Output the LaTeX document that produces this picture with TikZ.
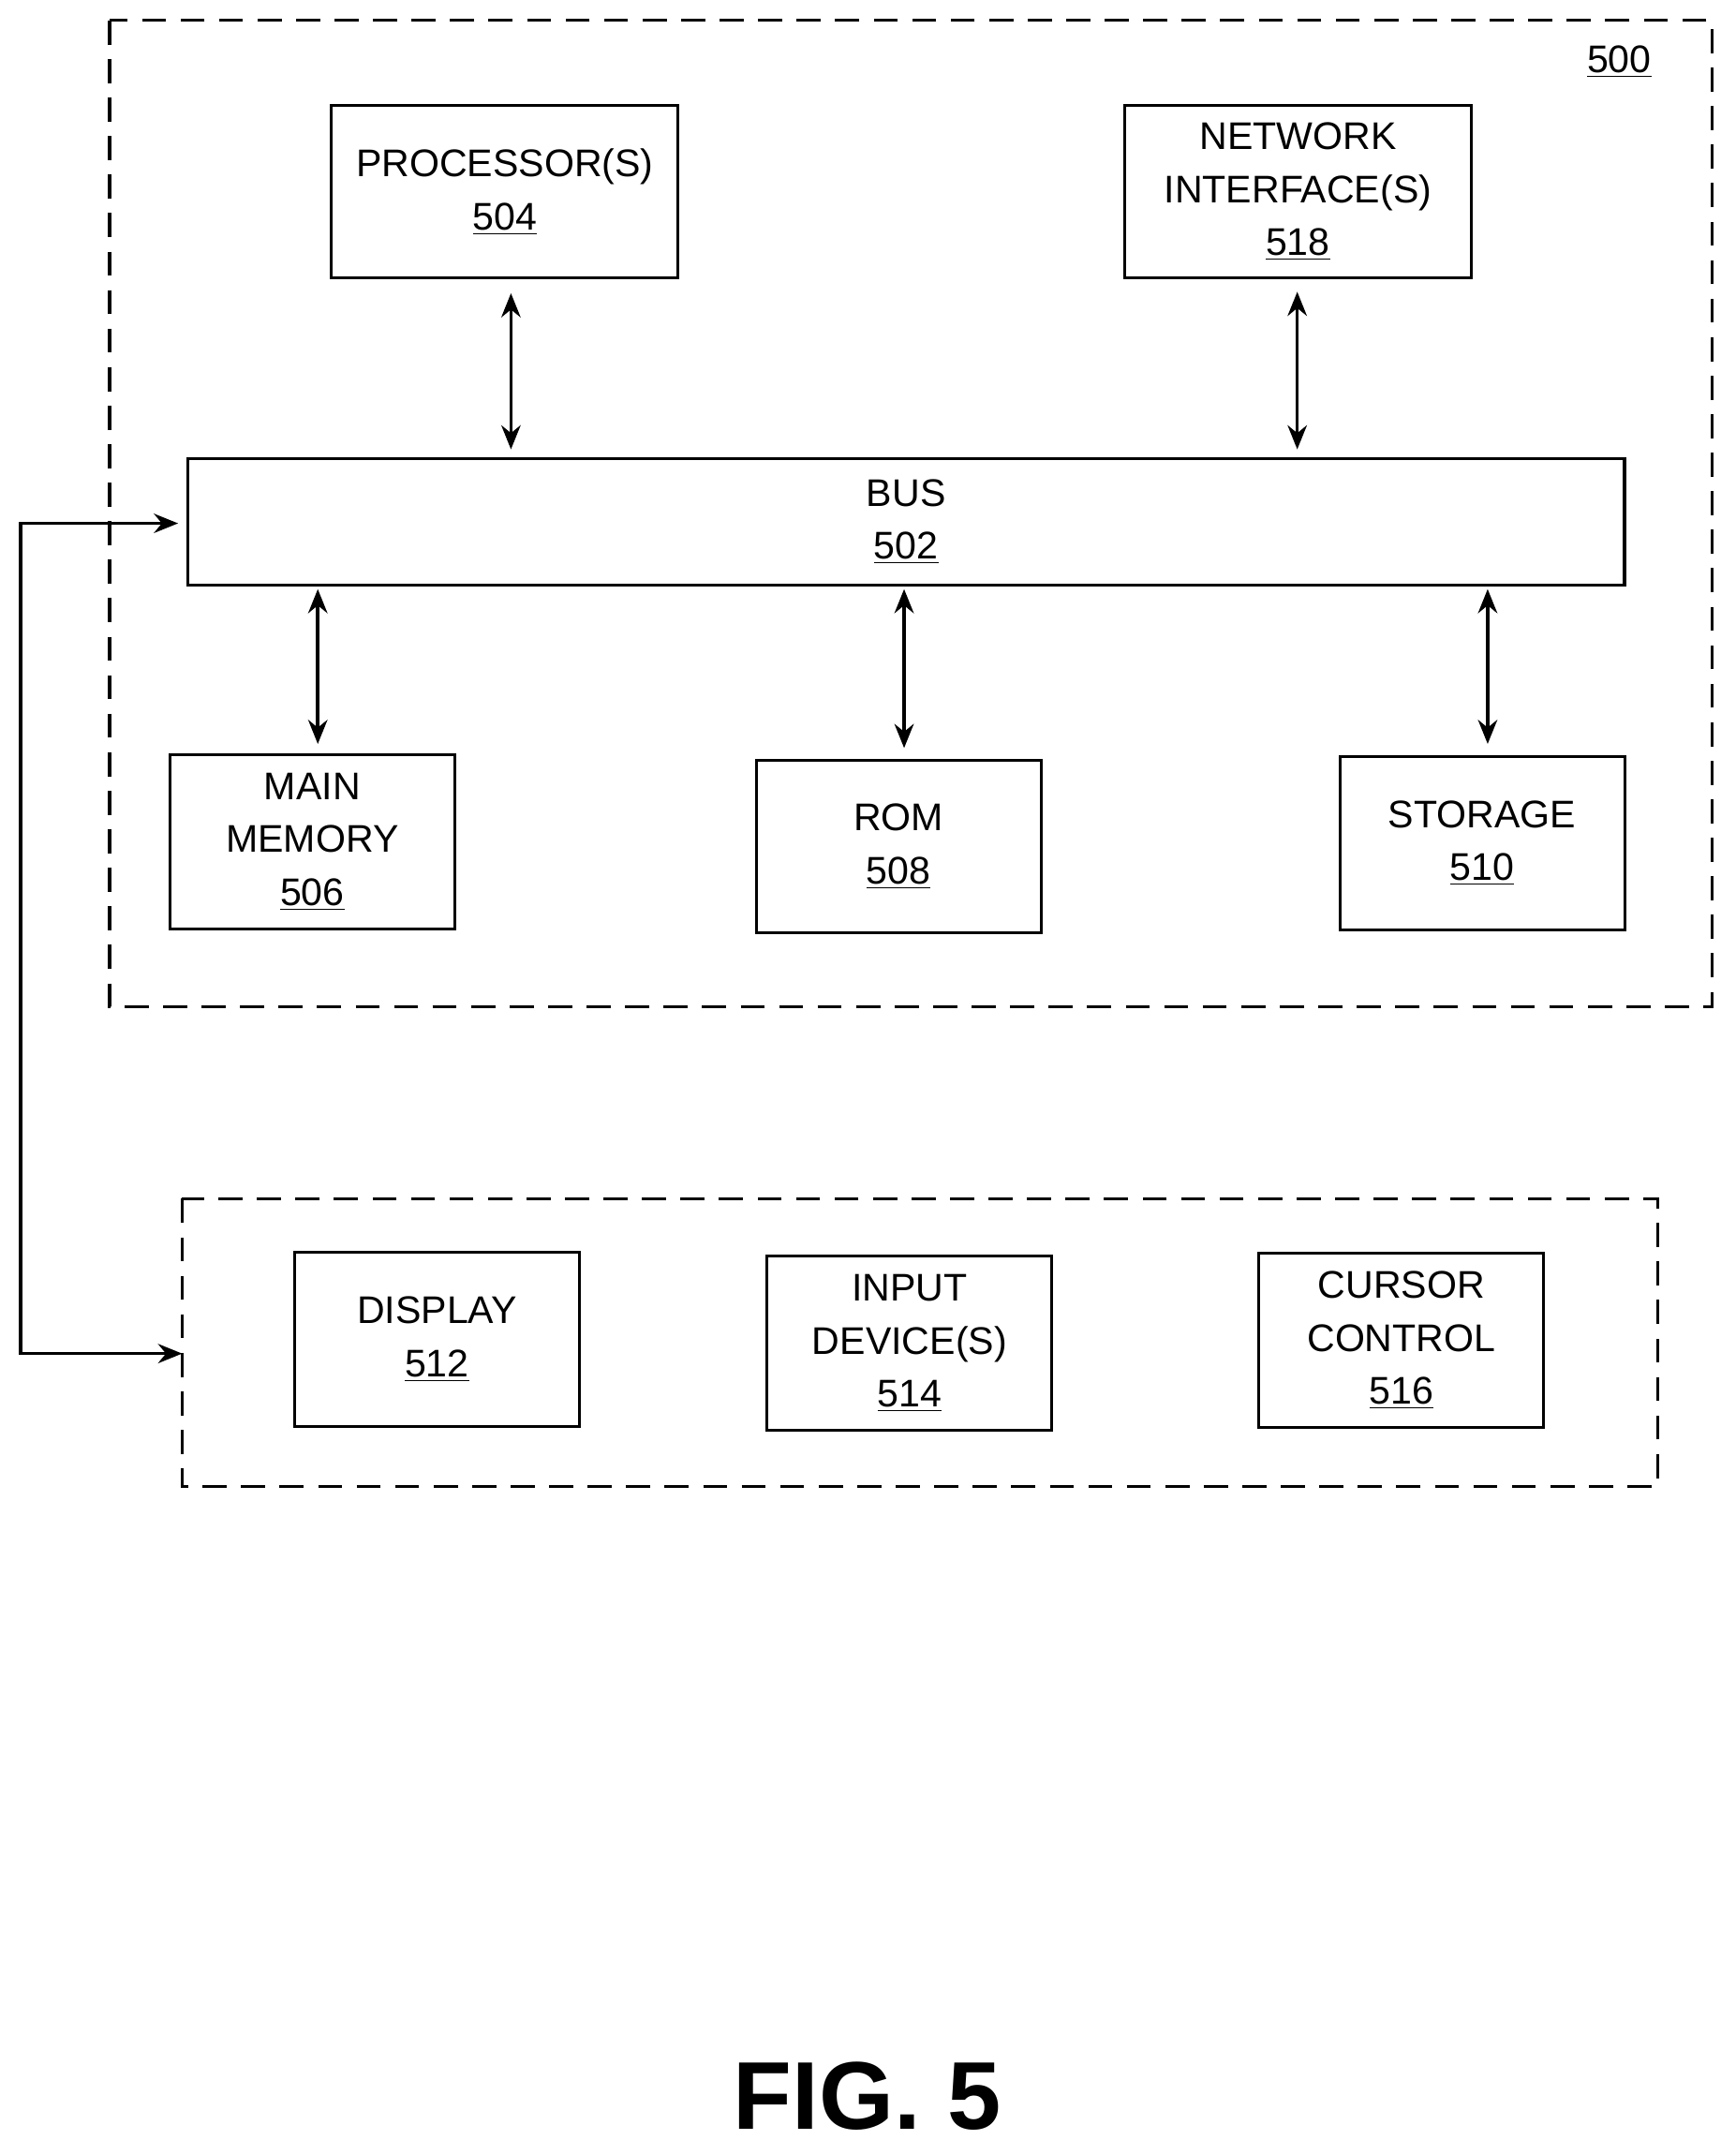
\documentclass[tikz,border=0pt]{standalone}
\usepackage{fontspec}
\setmainfont{Liberation Sans}
\usetikzlibrary{arrows.meta}
\begin{document}
\begin{tikzpicture}[x=0.02cm,y=-0.02cm,thick,
    box/.style={draw,line width=1.2pt,align=center,font=\fontsize{16}{22}\selectfont},
    group/.style={draw,line width=1.2pt,dash pattern=on 10pt off 6pt},
    link/.style={line width=1.4pt,{Stealth[length=10pt,width=8pt]}-{Stealth[length=10pt,width=8pt]}}]
    \useasboundingbox (0,0) rectangle (1267,1573);

    % dashed groups
    \draw[group] (80,15) rectangle (1250,735);
    \draw[group] (133,875) rectangle (1210,1085);
    \node[font=\fontsize{16}{20}\selectfont] at (1182,45) (num) {\underline{500}};

    % boxes
    \node[box,minimum width=5.06cm,minimum height=2.52cm] at (368.5,140) (proc) {PROCESSOR(S)\\\underline{504}};
    \node[box,minimum width=5.06cm,minimum height=2.52cm] at (947.5,140) (net) {NETWORK\\INTERFACE(S)\\\underline{518}};
    \node[box,minimum width=20.98cm,minimum height=1.84cm] at (661.5,381) (bus) {BUS\\\underline{502}};
    \node[box,minimum width=4.16cm,minimum height=2.54cm] at (228,614.5) (mem) {MAIN\\MEMORY\\\underline{506}};
    \node[box,minimum width=4.16cm,minimum height=2.52cm] at (656,618) (rom) {ROM\\\underline{508}};
    \node[box,minimum width=4.16cm,minimum height=2.54cm] at (1082,615.5) (stor) {STORAGE\\\underline{510}};
    \node[box,minimum width=4.16cm,minimum height=2.54cm] at (319,977.5) (disp) {DISPLAY\\\underline{512}};
    \node[box,minimum width=4.16cm,minimum height=2.54cm] at (664,980.5) (inp) {INPUT\\DEVICE(S)\\\underline{514}};
    \node[box,minimum width=4.16cm,minimum height=2.54cm] at (1023,978.5) (cur) {CURSOR\\CONTROL\\\underline{516}};

    % connectors
    \draw[link] (proc.south -| 373,0) ++(0,10) coordinate (p1) -- (373,328) coordinate (p2);
    \draw[link] (947,213) coordinate (n1) -- (947,328) coordinate (n2);
    \draw[link] (232,430) coordinate (m1) -- (232,543) coordinate (m2);
    \draw[link] (660,430) coordinate (r1) -- (660,546) coordinate (r2);
    \draw[link] (1086,430) coordinate (s1) -- (1086,543) coordinate (s2);
    \coordinate (busin) at (130,382);
    \coordinate (ioin) at (133,988);
    \draw[link] (busin) -- (15,382) -- (15,988) -- (ioin);

    \node[font=\bfseries\fontsize{40}{48}\selectfont] at (633,1530) (fig) {FIG. 5};
\end{tikzpicture}
\end{document}
